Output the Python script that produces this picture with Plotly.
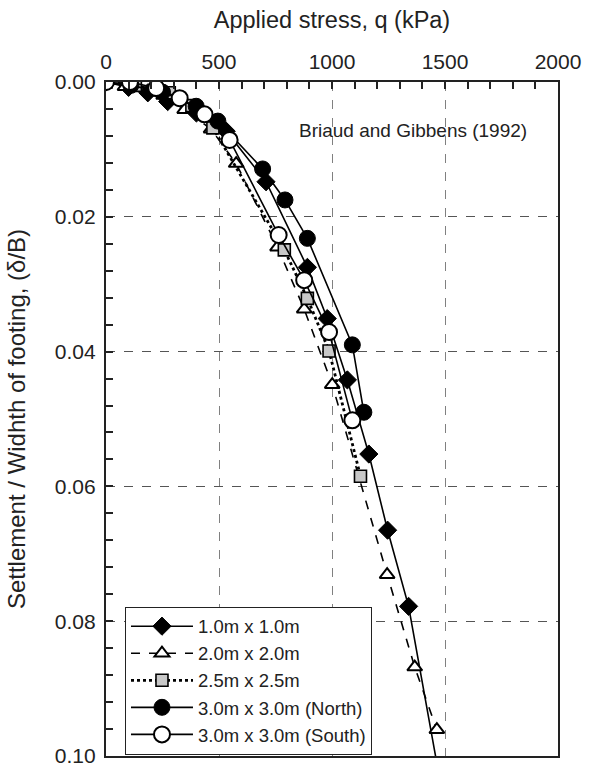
import plotly.graph_objects as go

# 1.0m x 1.0m (diamonds)
q_10 = [0, 100, 185, 273, 400, 532, 708, 891, 979, 1068, 1163, 1246, 1339, 1485]
d_10 = [0.0, 0.0008, 0.0016, 0.0029, 0.0046, 0.0073, 0.0148, 0.0275, 0.0351, 0.0442, 0.0552, 0.0665, 0.0778, 0.105]
# 2.0m x 2.0m (open triangles)
q_20 = [0, 84, 255, 348, 465, 576, 759, 877, 1001, 1244, 1366, 1464]
d_20 = [0.0, 0.0007, 0.0020, 0.0041, 0.0070, 0.0121, 0.0245, 0.0337, 0.0449, 0.0731, 0.0868, 0.0961]
# 2.5m x 2.5m (gray squares)
q_25 = [0, 130, 280, 380, 473, 789, 891, 987, 1126]
d_25 = [0.0, 0.0005, 0.0016, 0.0035, 0.0068, 0.0249, 0.0321, 0.0399, 0.0585]
# 3.0m x 3.0m North (filled circles)
q_30n = [0, 110, 250, 399, 495, 693, 792, 891, 1090, 1141]
d_30n = [0.0, 0.0005, 0.0015, 0.0036, 0.0058, 0.0129, 0.0175, 0.0232, 0.0390, 0.0490]
# 3.0m x 3.0m South (open circles)
q_30s = [0, 106, 222, 326, 436, 547, 764, 877, 987, 1090]
d_30s = [0.0, 0.0, 0.0009, 0.0024, 0.0048, 0.0086, 0.0227, 0.0294, 0.0371, 0.0502]

names = ["1.0m x 1.0m", "2.0m x 2.0m", "2.5m x 2.5m", "3.0m x 3.0m (North)", "3.0m x 3.0m (South)"]
x_ticks = [0, 500, 1000, 1500, 2000]
y_ticks = [0.00, 0.02, 0.04, 0.06, 0.08, 0.10]

FONT = "Liberation Sans, Arial, sans-serif"

fig = go.Figure()
fig.add_trace(go.Scatter(x=q_10, y=d_10, name=names[0], mode="lines+markers",
                         line=dict(color="black", width=1.6),
                         marker=dict(symbol="diamond", size=14, color="black", line=dict(color="black", width=1))))
fig.add_trace(go.Scatter(x=q_20, y=d_20, name=names[1], mode="lines+markers",
                         line=dict(color="black", width=1.6, dash="dash"),
                         marker=dict(symbol="triangle-up", size=13, color="white", line=dict(color="black", width=2))))
fig.add_trace(go.Scatter(x=q_25, y=d_25, name=names[2], mode="lines+markers",
                         line=dict(color="black", width=2.8, dash="dot"),
                         marker=dict(symbol="square", size=12, color="#c8c8c8", line=dict(color="black", width=1.6))))
fig.add_trace(go.Scatter(x=q_30n, y=d_30n, name=names[3], mode="lines+markers",
                         line=dict(color="black", width=1.6),
                         marker=dict(symbol="circle", size=16, color="black", line=dict(color="black", width=1))))
fig.add_trace(go.Scatter(x=q_30s, y=d_30s, name=names[4], mode="lines+markers",
                         line=dict(color="black", width=1.6),
                         marker=dict(symbol="circle", size=16, color="white", line=dict(color="black", width=2))))

fig.add_annotation(x=1357, y=0.00725, text="Briaud and Gibbens (1992)", showarrow=False,
                   xanchor="center", yanchor="middle", font=dict(size=19, color="#222", family=FONT))

fig.update_layout(
    width=592, height=778,
    margin=dict(l=106, r=32, t=82, b=11),
    paper_bgcolor="white", plot_bgcolor="white",
    font=dict(family=FONT, color="#222", size=21),
    showlegend=True,
    legend=dict(x=0.042, y=0.002, xanchor="left", yanchor="bottom",
                bgcolor="white", bordercolor="#222", borderwidth=1,
                font=dict(size=18.5, family=FONT), tracegroupgap=0, itemwidth=62),
)
fig.update_xaxes(
    side="top", range=[0, 2000], tickvals=x_ticks, ticks="inside", ticklen=7,
    tickwidth=1.5, tickcolor="#222", tickfont=dict(size=21), ticklabelstandoff=3,
    showline=True, linecolor="#222", linewidth=2.2, mirror=True,
    showgrid=True, gridcolor="#808080", griddash="dash", gridwidth=1.3,
    zeroline=False,
    minor=dict(dtick=100, ticks="inside", ticklen=7, tickcolor="#222", showgrid=False),
    title=dict(text="Applied stress, q (kPa)", font=dict(size=23.5), standoff=14),
)
fig.update_yaxes(
    range=[0.10, 0.0], tickvals=y_ticks, tickformat=".2f", ticks="inside", ticklen=7,
    tickwidth=1.5, tickcolor="#222", tickfont=dict(size=21), ticklabelstandoff=4,
    showline=True, linecolor="#222", linewidth=2.2, mirror=True,
    showgrid=True, gridcolor="#555", griddash="dash", gridwidth=1.3,
    zeroline=False,
    minor=dict(dtick=0.004, ticks="inside", ticklen=7, tickcolor="#222", showgrid=False),
    title=dict(text="Settlement / Widhth of footing, (δ/B)", font=dict(size=24), standoff=22),
)

fig.write_html("out.html")
